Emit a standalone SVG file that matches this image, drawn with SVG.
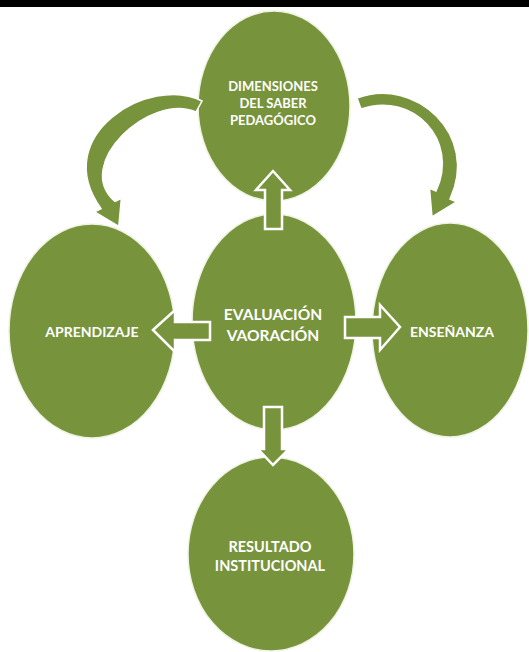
<svg xmlns="http://www.w3.org/2000/svg" width="529" height="652" viewBox="0 0 529 652">
<style>
.n{fill:#77933C;stroke:#EEF3E2;stroke-width:1.5}
.t{fill:#fff;font-family:Lato,"Open Sans","Liberation Sans",sans-serif;font-weight:bold;text-anchor:middle}
.ba{fill:#77933C;stroke:#fff;stroke-width:2.5;stroke-linejoin:miter}
.ca{fill:#77933C;stroke:#fff;stroke-width:1.5;stroke-linejoin:miter}
</style>
<rect x="0" y="0" width="529" height="652" fill="#fff"/>
<rect x="0" y="0" width="529" height="7" fill="#000"/>
<g id="node-dimensiones">
<ellipse class="n" cx="274" cy="106" rx="76" ry="95"/>
<text class="t" font-size="13"><tspan x="273" y="91">DIMENSIONES</tspan><tspan x="273" y="108">DEL SABER</tspan><tspan x="273" y="125">PEDAGÓGICO</tspan></text>
</g>
<g id="node-aprendizaje">
<ellipse class="n" cx="92" cy="331" rx="83" ry="107"/>
<text class="t" font-size="14" x="92" y="337">APRENDIZAJE</text>
</g>
<g id="node-evaluacion">
<ellipse class="n" cx="274" cy="322" rx="82" ry="108"/>
<text class="t" font-size="15.5"><tspan x="273" y="320">EVALUACIÓN</tspan><tspan x="273" y="341">VAORACIÓN</tspan></text>
</g>
<g id="node-ensenanza">
<ellipse class="n" cx="450" cy="330" rx="78" ry="107"/>
<text class="t" font-size="14" x="452" y="337">ENSEÑANZA</text>
</g>
<g id="node-resultado">
<ellipse class="n" cx="271" cy="554" rx="83" ry="97"/>
<text class="t" font-size="14.5"><tspan x="270" y="552">RESULTADO</tspan><tspan x="270" y="571">INSTITUCIONAL</tspan></text>
</g>
<g id="connectors">
<polygon class="ba" points="273,171 290,190 282,190 282,229 265,229 265,190 256,190"/>
<polygon class="ba" points="153,330 175,310 175,322 210,322 210,340 175,340 175,352"/>
<polygon class="ba" points="345,317 380,317 380,305 400,327 380,350 380,338 345,338"/>
<polygon class="ba" points="264,407 282,407 282,449 289,449 273,465 258,449 264,449"/>
<path class="ca" d="M357,98 C415,76 480,135 450,199 L456.5,201.8 L432,217 L429.5,188.3 L436,191 C460,140 412,91 361,109 Z"/>
<path class="ca" d="M202,101 C150,74 48,135 101,208.6 L94.6,211.8 L118.8,226.4 L121.4,198.3 L115.1,201.4 C72,165 150,92 196,112 Z"/>
</g>
</svg>
